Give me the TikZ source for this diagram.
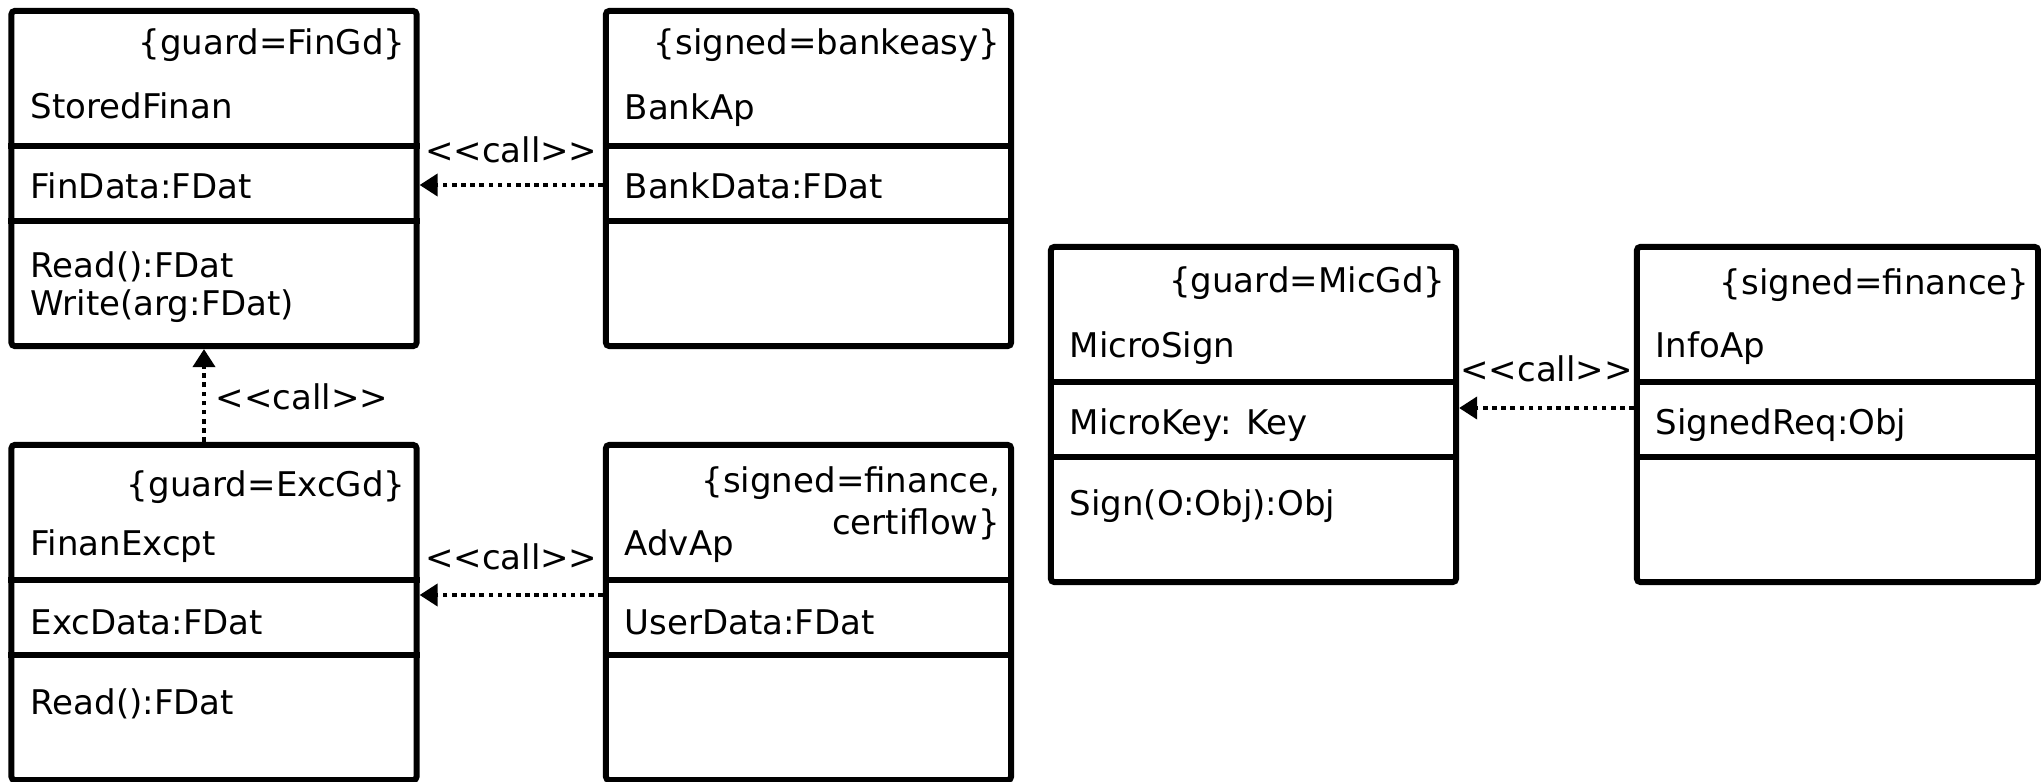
\documentclass[tikz,border=0pt]{standalone}
\usepackage{fontspec}
\setmainfont{DejaVu Sans}
\usepackage{tikz}
\usetikzlibrary{arrows.meta}

\begin{document}
\begin{tikzpicture}[x=0.01cm, y=-0.01cm,
        font=\fontsize{9.67}{10.8}\selectfont,
        classbox/.style={draw, line width=1.7pt, rounded corners=1pt,
            minimum width=4.05cm, minimum height=3.35cm, inner sep=0pt},
        divider/.style={line width=1.7pt},
        txt/.style={inner sep=0pt, anchor=base west},
        tagtxt/.style={inner sep=0pt, anchor=base east},
        callline/.style={line width=1.1pt, dash pattern=on 1.3pt off 1.3pt,
            -{Triangle[length=0.18cm, width=0.22cm]}},
        calllabel/.style={inner sep=0pt, anchor=base}]
        \useasboundingbox (0,0) rectangle (2041,782);

        % Draw the class boxes
        \node[classbox] (sfin) at (214,178.5) {};
        \node[classbox] (bank) at (808.5,178.5) {};
        \node[classbox] (fexc) at (214,612.5) {};
        \node[classbox] (adv) at (808.5,612.5) {};
        \node[classbox] (msign) at (1253.5,414.5) {};
        \node[classbox, minimum width=4.01cm] (info) at (1837.5,414.5) {};

        % Split the boxes into compartments
        \draw[divider] (sfin.west |- 0,146) -- (sfin.east |- 0,146);
        \draw[divider] (sfin.west |- 0,221) -- (sfin.east |- 0,221);
        \draw[divider] (bank.west |- 0,146) -- (bank.east |- 0,146);
        \draw[divider] (bank.west |- 0,221) -- (bank.east |- 0,221);
        \draw[divider] (fexc.west |- 0,580) -- (fexc.east |- 0,580);
        \draw[divider] (fexc.west |- 0,655) -- (fexc.east |- 0,655);
        \draw[divider] (adv.west |- 0,580) -- (adv.east |- 0,580);
        \draw[divider] (adv.west |- 0,655) -- (adv.east |- 0,655);
        \draw[divider] (msign.west |- 0,382) -- (msign.east |- 0,382);
        \draw[divider] (msign.west |- 0,457) -- (msign.east |- 0,457);
        \draw[divider] (info.west |- 0,382) -- (info.east |- 0,382);
        \draw[divider] (info.west |- 0,457) -- (info.east |- 0,457);

        % Label the StoredFinan class
        \node[tagtxt] (sfin-tag) at (406,55) {\{guard=FinGd\}};
        \node[txt] (sfin-name) at (30,119) {StoredFinan};
        \node[txt] (sfin-attr) at (30,199) {FinData:FDat};
        \node[txt] (sfin-meth) at (30,278)
            {\begin{tabular}[t]{@{}l@{}}Read():FDat\\Write(arg:FDat)\end{tabular}};

        % Label the BankAp class
        \node[tagtxt] (bank-tag) at (1001,55) {\{signed=bankeasy\}};
        \node[txt] (bank-name) at (624,120) {BankAp};
        \node[txt] (bank-attr) at (624,199) {BankData:FDat};

        % Label the FinanExcpt class
        \node[tagtxt] (fexc-tag) at (406,497) {\{guard=ExcGd\}};
        \node[txt] (fexc-name) at (30,555) {FinanExcpt};
        \node[txt] (fexc-attr) at (30,634) {ExcData:FDat};
        \node[txt] (fexc-meth) at (30,714) {Read():FDat};

        % Label the AdvAp class
        \node[tagtxt] (adv-tag) at (1001,492)
            {\begin{tabular}[t]{@{}r@{}}\{signed=finance,\\[1.4pt]certiflow\}\end{tabular}};
        \node[txt] (adv-name) at (624,555) {AdvAp};
        \node[txt] (adv-attr) at (624,634) {UserData:FDat};

        % Label the MicroSign class
        \node[tagtxt] (msign-tag) at (1446,293) {\{guard=MicGd\}};
        \node[txt] (msign-name) at (1069,357) {MicroSign};
        \node[txt] (msign-attr) at (1069,435) {MicroKey: Key};
        \node[txt] (msign-meth) at (1069,515) {Sign(O:Obj):Obj};

        % Label the InfoAp class
        \node[tagtxt] (info-tag) at (2030,295) {\{signed=finance\}};
        \node[txt] (info-name) at (1655,357) {InfoAp};
        \node[txt] (info-attr) at (1655,435) {SignedReq:Obj};

        % Draw the call dependencies
        \draw[callline] (bank.west |- 0,185) -- (sfin.east |- 0,185)
            node[calllabel, midway, yshift=0.22cm] (call-bank) {<\kern0pt<call>\kern0pt>};
        \draw[callline] (adv.west |- 0,595) -- (fexc.east |- 0,595)
            node[calllabel, midway, yshift=0.25cm] (call-adv) {<\kern0pt<call>\kern0pt>};
        \draw[callline] (info.west |- 0,408) -- (msign.east |- 0,408)
            node[calllabel, midway, yshift=0.26cm] (call-info) {<\kern0pt<call>\kern0pt>};
        \draw[callline] (fexc.north -| 204,0) -- (sfin.south -| 204,0)
            node[calllabel, midway, anchor=base west, xshift=0.1cm, yshift=-0.135cm] (call-fexc) {<\kern0pt<call>\kern0pt>};
    \end{tikzpicture}
\end{document}
